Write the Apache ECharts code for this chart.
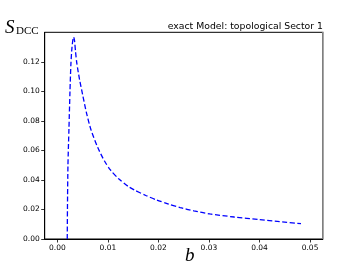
<!DOCTYPE html>
<html><head><meta charset="utf-8">
<script src="https://cdn.jsdelivr.net/npm/echarts@6/dist/echarts.min.js"></script>
<style>html,body{margin:0;padding:0;background:#fff}#c{width:359px;height:269px}</style>
</head><body><div id="c"></div>
<script>
const bValues = [0.00196,0.0020,0.0021,0.0023,0.0025,0.00269,0.0029,0.0031,0.00322,0.0034,0.0036,0.00386,0.0044,0.00504,0.0058,0.00667,0.0080,0.0093,0.0105,0.0122,0.0140,0.0152,0.0175,0.0197,0.0220,0.0243,0.0270,0.0302,0.0350,0.0400,0.0440,0.0482];
const sValues = [0.0,0.02,0.05,0.075,0.10,0.119,0.130,0.1355,0.1368,0.1345,0.127,0.119,0.108,0.0972,0.085,0.0739,0.062,0.053,0.0468,0.0406,0.0357,0.0333,0.0295,0.0264,0.0237,0.0213,0.0191,0.0170,0.0149,0.0132,0.0118,0.0104];
const xTicks = [0,0.01,0.02,0.03,0.04,0.05];
const yTicks = [0,0.02,0.04,0.06,0.08,0.10,0.12];
const titleText = 'exact Model: topological Sector 1';

const data = bValues.map((b,i)=>[b,sValues[i]]);
const chart = echarts.init(document.getElementById('c'),null,{renderer:'canvas'});
const tickFont = {fontFamily:'DejaVu Sans',fontSize:7.5,color:'#000'};
chart.setOption({
  animation:false,
  title:{text:titleText,right:31,top:17,textStyle:{fontFamily:'DejaVu Sans',fontSize:9.3,fontWeight:'normal',color:'#000'}},
  grid:{left:44.7,right:36.3,top:32.3,bottom:30,show:true,borderColor:'#000',borderWidth:1},
  xAxis:[{type:'value',min:-0.0025,max:0.0525,
    axisLine:{show:true,onZero:false,lineStyle:{color:'#000',width:1}},
    axisTick:{show:true,inside:false,length:3.5,customValues:xTicks,lineStyle:{color:'#000',width:0.8}},
    axisLabel:{customValues:xTicks,margin:5,formatter:v=>v.toFixed(2),...tickFont},
    splitLine:{show:false}}],
  yAxis:[{type:'value',min:0,max:0.1401,
    axisLine:{show:true,onZero:false,lineStyle:{color:'#000',width:1}},
    axisTick:{show:true,inside:false,length:3.5,customValues:yTicks,lineStyle:{color:'#000',width:0.8}},
    axisLabel:{customValues:yTicks,margin:5,formatter:v=>v.toFixed(2),...tickFont},
    splitLine:{show:false}},
   {type:'value',position:'right',min:0,max:0.1401,
    axisLine:{show:true,onZero:false,lineStyle:{color:'#9a9a9a',width:1.5}},
    axisTick:{show:false},axisLabel:{show:false},splitLine:{show:false}}],
  series:[{type:'line',data:data,showSymbol:false,smooth:0.25,
    lineStyle:{color:'#0000ff',width:1.3,type:[5,2.5]}}],
  graphic:[
    {type:'text',left:5,top:18,style:{text:'S',font:'italic 19px "Liberation Serif"',fill:'#000'}},
    {type:'text',left:16,top:26,style:{text:'DCC',font:'11px "Liberation Serif"',fill:'#000'}},
    {type:'text',left:185,top:246,style:{text:'b',font:'italic 19px "Liberation Serif"',fill:'#000'}}
  ]
});
</script></body></html>
